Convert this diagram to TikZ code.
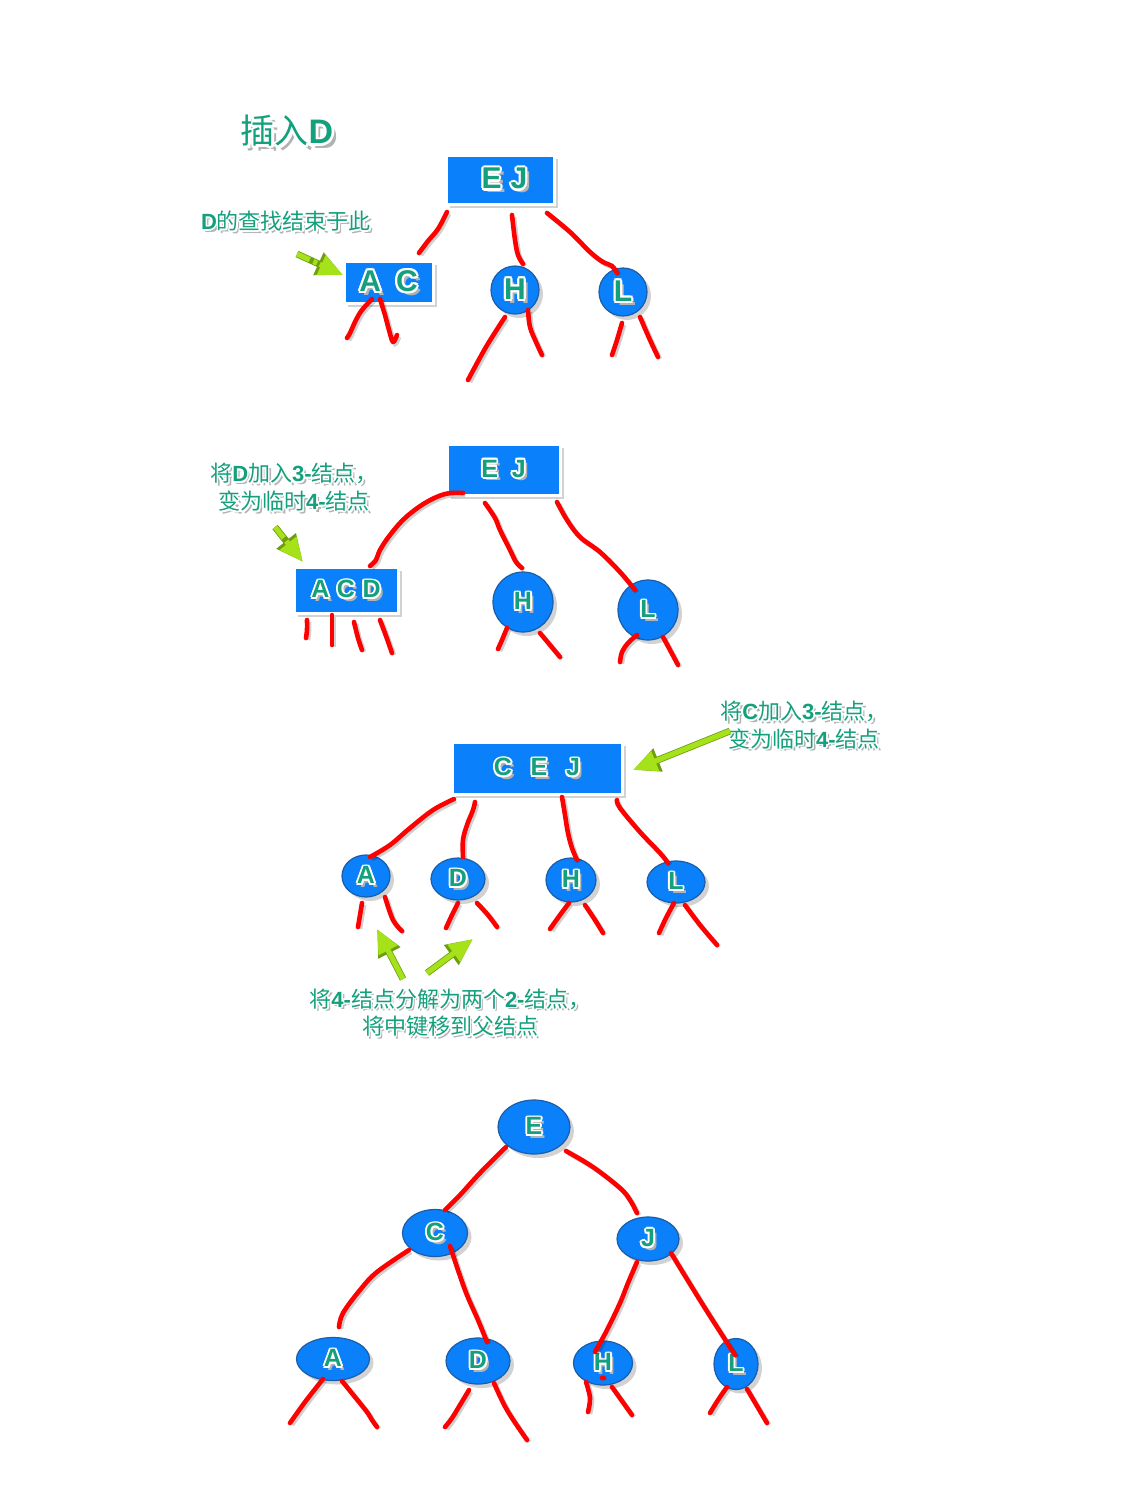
\documentclass[tikz,border=0pt]{standalone}
\usepackage{fontspec}
\setmainfont{Liberation Sans}
\newfontfamily\cjk{Noto Sans CJK SC}
\usetikzlibrary{shapes.geometric,shadows,arrows.meta}
\definecolor{nodeblue}{HTML}{0A80FA}
\definecolor{circedge}{HTML}{1A5DAA}
\definecolor{tgreen}{HTML}{14A07C}
\definecolor{limeg}{HTML}{A5E21A}
\definecolor{limeedge}{HTML}{6E9E10}
\definecolor{redl}{HTML}{FF0000}
\newlength\olw
\newcommand\olt[2][0.075em]{{\setlength\olw{#1}\leavevmode
\makebox[0pt][l]{\hspace*{0.13em}\raisebox{-0.13em}{\color{black!30}#2}}%
\makebox[0pt][l]{\hspace*{-\olw}\color{white}#2}%
\makebox[0pt][l]{\hspace*{\olw}\color{white}#2}%
\makebox[0pt][l]{\raisebox{\olw}{\color{white}#2}}%
\makebox[0pt][l]{\raisebox{-\olw}{\color{white}#2}}%
\makebox[0pt][l]{\hspace*{-.7\olw}\raisebox{.7\olw}{\color{white}#2}}%
\makebox[0pt][l]{\hspace*{.7\olw}\raisebox{.7\olw}{\color{white}#2}}%
\makebox[0pt][l]{\hspace*{-.7\olw}\raisebox{-.7\olw}{\color{white}#2}}%
\makebox[0pt][l]{\hspace*{.7\olw}\raisebox{-.7\olw}{\color{white}#2}}%
{\color{tgreen}#2}}}
\newcommand\lb[1]{{\rmfamily\bfseries #1}}
\newcommand\fbig{\fontsize{15}{15}\selectfont\bfseries}
\newcommand\fmid{\fontsize{12.5}{12.5}\selectfont\bfseries}
\begin{document}
\begin{tikzpicture}[x=0.5pt,y=-0.5pt,
  shad/.style={drop shadow={shadow xshift=2pt,shadow yshift=-2pt,opacity=0.35}},
  rectnode/.style={rectangle,fill=nodeblue,draw=white,line width=1.5pt,inner sep=0pt,shad},
  circnode/.style={circle,fill=nodeblue,draw=circedge,line width=0.6pt,inner sep=0pt,shad},
  ellnode/.style={ellipse,fill=nodeblue,draw=circedge,line width=0.6pt,inner sep=0pt,shad},
  redline/.style={draw=redl,line width=2.3pt,line cap=round,line join=round,
    preaction={draw=black,opacity=0.18,line width=2.3pt,transform canvas={shift={(1pt,-1pt)}}}},
  garrow/.style={draw=limeg,line width=2.6pt,-{Triangle[width=10pt,length=12pt,fill=limeg]},
    preaction={draw=limeedge,line width=3.4pt,-{Triangle[width=11.5pt,length=13.5pt]}}},
  gdash/.style={garrow,dash pattern=on 7pt off 2pt on 2pt off 1.5pt},
  note/.style={font=\cjk\fontsize{11}{12}\selectfont,align=center,inner sep=0pt},
]
\useasboundingbox[fill=white] (0,0) rectangle (1124,1488);

% ---------- title ----------
\node[font=\cjk\fontsize{17}{17}\selectfont,inner sep=0pt] (title) at (287,132) {\olt{插入\lb{D}}};

% ---------- tree 1 ----------
\node[note] (n1) at (286,222) {\olt{\lb{D}的查找结束于此}};
\node[rectnode,minimum width=54pt,minimum height=24.5pt,font=\fbig] (ej1) at (500,179.5) {\hspace{0.3em}\olt{E}\hspace{0.3em}\olt{J}};
\node[rectnode,minimum width=44.5pt,minimum height=21pt,font=\fbig] (ac1) at (388.5,282) {\olt{A}\hspace{0.5em}\olt{C}};
\node[circnode,minimum size=24pt,font=\fbig] (h1) at (515,290) {\olt{H}};
\node[circnode,minimum size=24pt,font=\fbig] (l1) at (623,292) {\olt{L}};
\coordinate (a1s) at (297,254);
\coordinate (a1e) at (343,275);
\draw[gdash] (a1s) -- (a1e);

\draw[redline] plot[smooth,tension=0.6] coordinates {(447,212) (438,229) (428,241) (419,253)};
\draw[redline] plot[smooth,tension=0.6] coordinates {(512,215) (515,240) (518,255) (523,264)};
\draw[redline] plot[smooth,tension=0.6] coordinates {(547,213) (570,232) (590,252) (603,262) (612,266) (617,273)};
\draw[redline] plot[smooth,tension=0.6] coordinates {(372,299) (362,310) (356,320) (350,333) (347,338)};
\draw[redline] plot[smooth,tension=0.6] coordinates {(380,299) (385,315) (389,330) (393,342) (397,335)};
\draw[redline] plot[smooth,tension=0.6] coordinates {(505,317) (486,347) (468,380)};
\draw[redline] plot[smooth,tension=0.6] coordinates {(528,310) (530,327) (536,342) (542,355)};
\draw[redline] plot[smooth,tension=0.6] coordinates {(622,323) (617,340) (612,355)};
\draw[redline] plot[smooth,tension=0.6] coordinates {(640,317) (650,340) (658,357)};

% ---------- tree 2 ----------
\node[note] (n2) at (294,488) {\olt{将\lb{D}加入\lb{3-}结点，}\\\olt{变为临时\lb{4-}结点}};
\node[rectnode,minimum width=56.5pt,minimum height=25.5pt,font=\fmid] (ej2) at (503.5,469.5) {\olt{E}\hspace{0.55em}\olt{J}};
\node[rectnode,minimum width=52pt,minimum height=23pt,font=\fmid] (acd2) at (346,590) {\olt{A}\hspace{0.3em}\olt{C}\hspace{0.3em}\olt{D}};
\node[circnode,minimum size=30pt,font=\fmid] (h2) at (523,602) {\olt{H}};
\node[circnode,minimum size=30pt,font=\fmid] (l2) at (648,610) {\olt{L}};
\coordinate (a2s) at (275,527);
\coordinate (a2e) at (303,562);
\draw[gdash] (a2s) -- (a2e);

\draw[redline] plot[smooth,tension=0.6] coordinates {(463,493) (445,494) (425,503) (405,518) (390,535) (380,550) (376,560) (370,566)};
\draw[redline] plot[smooth,tension=0.6] coordinates {(485,503) (495,518) (500,530) (510,550) (516,562) (522,568)};
\draw[redline] plot[smooth,tension=0.6] coordinates {(557,502) (567,520) (580,537) (600,552) (620,572) (635,590)};
\draw[redline] plot[smooth,tension=0.6] coordinates {(307,620) (307,630) (306,638)};
\draw[redline] plot[smooth,tension=0.6] coordinates {(332,615) (332,630) (332,645)};
\draw[redline] plot[smooth,tension=0.6] coordinates {(354,622) (358,638) (362,650)};
\draw[redline] plot[smooth,tension=0.6] coordinates {(380,620) (386,636) (392,653)};
\draw[redline] plot[smooth,tension=0.6] coordinates {(507,628) (502,640) (498,649)};
\draw[redline] plot[smooth,tension=0.6] coordinates {(540,633) (550,645) (560,657)};
\draw[redline] plot[smooth,tension=0.6] coordinates {(637,635) (628,643) (622,652) (620,662)};
\draw[redline] plot[smooth,tension=0.6] coordinates {(663,637) (670,650) (678,665)};

% ---------- tree 3 ----------
\node[note] (n3) at (804,725.5) {\olt{将\lb{C}加入\lb{3-}结点，}\\\olt{变为临时\lb{4-}结点}};
\node[rectnode,minimum width=85pt,minimum height=26pt,font=\fmid] (cej3) at (537,768) {\olt{C}\hspace{0.75em}\olt{E}\hspace{0.75em}\olt{J}};
\node[ellnode,minimum width=24pt,minimum height=21pt,font=\fmid] (a3) at (366,876) {\olt{A}};
\node[ellnode,minimum width=27pt,minimum height=21pt,font=\fmid] (d3) at (458,879) {\olt{D}};
\node[ellnode,minimum width=25pt,minimum height=22pt,font=\fmid] (h3) at (571,880) {\olt{H}};
\node[ellnode,minimum width=29pt,minimum height=21pt,font=\fmid] (l3) at (676,882) {\olt{L}};
\node[note] (n4) at (450,1013) {\olt{将\lb{4-}结点分解为两个\lb{2-}结点，}\\\olt{将中键移到父结点}};
\coordinate (a3s) at (730,731);
\coordinate (a3e) at (633,770);
\draw[garrow] (a3s) -- (a3e);
\coordinate (a4s) at (403,979);
\coordinate (a4e) at (377,929);
\draw[garrow] (a4s) -- (a4e);
\coordinate (a5s) at (427,973);
\coordinate (a5e) at (473,939);
\draw[garrow] (a5s) -- (a5e);

\draw[redline] plot[smooth,tension=0.6] coordinates {(454,799) (433,810) (410,828) (390,845) (370,857)};
\draw[redline] plot[smooth,tension=0.6] coordinates {(475,802) (473,810) (467,825) (463,840) (463,857)};
\draw[redline] plot[smooth,tension=0.6] coordinates {(562,797) (565,815) (568,833) (572,848) (577,860)};
\draw[redline] plot[smooth,tension=0.6] coordinates {(617,800) (620,808) (640,832) (660,853) (668,863)};
\draw[redline] plot[smooth,tension=0.6] coordinates {(362,903) (360,915) (358,927)};
\draw[redline] plot[smooth,tension=0.6] coordinates {(385,897) (393,920) (402,931)};
\draw[redline] plot[smooth,tension=0.6] coordinates {(458,903) (452,915) (446,928)};
\draw[redline] plot[smooth,tension=0.6] coordinates {(477,903) (488,915) (497,927)};
\draw[redline] plot[smooth,tension=0.6] coordinates {(569,903) (560,915) (550,929)};
\draw[redline] plot[smooth,tension=0.6] coordinates {(585,905) (595,920) (603,933)};
\draw[redline] plot[smooth,tension=0.6] coordinates {(674,903) (666,918) (659,933)};
\draw[redline] plot[smooth,tension=0.6] coordinates {(685,905) (700,925) (717,945)};

% ---------- tree 4 ----------
\node[ellnode,minimum width=36pt,minimum height=27pt,font=\fmid] (e4) at (534,1127) {\olt{E}};
\node[ellnode,minimum width=32.5pt,minimum height=23.5pt,font=\fmid] (c4) at (435,1233) {\olt{C}};
\node[ellnode,minimum width=31pt,minimum height=22pt,font=\fmid] (j4) at (648,1239) {\olt{J}};
\node[ellnode,minimum width=36.5pt,minimum height=21.5pt,font=\fmid] (a4) at (333,1359) {\olt{A}};
\node[ellnode,minimum width=32pt,minimum height=23pt,font=\fmid] (d4) at (478,1361) {\olt{D}};
\node[ellnode,minimum width=29.5pt,minimum height=22pt,font=\fmid] (h4) at (603,1363) {\olt{H}};
\node[ellnode,minimum width=22pt,minimum height=25.5pt,font=\fmid] (l4) at (736,1364) {\olt{L}};

\draw[redline] plot[smooth,tension=0.6] coordinates {(506,1147) (480,1173) (460,1195) (445,1210)};
\draw[redline] plot[smooth,tension=0.6] coordinates {(566,1151) (593,1167) (620,1188) (630,1200) (637,1213)};
\draw[redline] plot[smooth,tension=0.6] coordinates {(409,1250) (377,1272) (360,1290) (343,1313) (339,1327)};
\draw[redline] plot[smooth,tension=0.6] coordinates {(450,1246) (465,1290) (478,1320) (487,1342)};
\draw[redline] plot[smooth,tension=0.6] coordinates {(637,1262) (628,1283) (620,1303) (607,1330) (595,1352)};
\draw[redline] plot[smooth,tension=0.6] coordinates {(671,1253) (703,1305) (735,1355)};
\draw[redline] plot[smooth,tension=0.6] coordinates {(323,1379) (305,1402) (290,1423)};
\draw[redline] plot[smooth,tension=0.6] coordinates {(342,1381) (355,1397) (367,1412) (372,1420) (377,1427)};
\draw[redline] plot[smooth,tension=0.6] coordinates {(469,1390) (460,1405) (452,1418) (445,1427)};
\draw[redline] plot[smooth,tension=0.6] coordinates {(494,1383) (507,1410) (527,1440)};
\draw[redline] plot[smooth,tension=0.6] coordinates {(586,1382) (590,1398) (588,1412)};
\draw[redline] plot[smooth,tension=0.6] coordinates {(612,1387) (622,1401) (632,1415)};
\draw[redline] plot[smooth,tension=0.6] coordinates {(727,1387) (718,1400) (710,1413)};
\draw[redline] plot[smooth,tension=0.6] coordinates {(747,1389) (757,1406) (767,1423)};
\fill[redl] (603,1378) ellipse [x radius=3.5, y radius=2.5];
\end{tikzpicture}
\end{document}
